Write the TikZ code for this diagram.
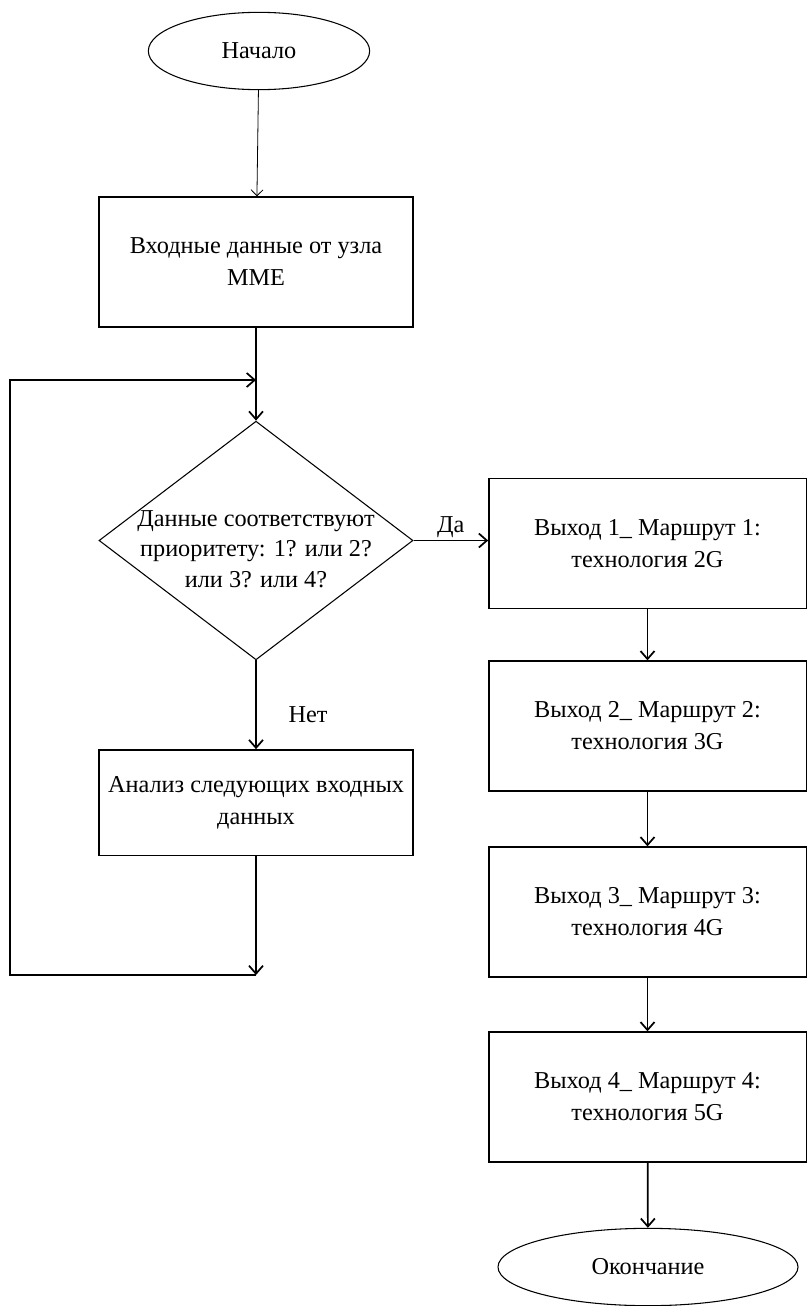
\documentclass[tikz,border=0pt]{standalone}
\usepackage{fontspec}
\setmainfont{Liberation Serif}
\usetikzlibrary{shapes.geometric,arrows.meta,calc}

\begin{document}
\begin{tikzpicture}[x=0.75pt,y=-0.75pt]
\tikzset{block/.style = {draw, rectangle, line width=1pt, minimum width=235.5pt, minimum height=97.5pt, align=center, font=\fontsize{18.2}{24}\selectfont},
  outbox/.style = {block, minimum width=238pt},
  terminal/.style = {draw, ellipse, line width=0.8pt, minimum width=166pt, minimum height=58pt, inner sep=0pt, font=\fontsize{18.2}{24}\selectfont},
  decision/.style = {draw, diamond, line width=0.8pt, minimum width=235.5pt, minimum height=179pt, inner sep=0pt},
  caption/.style = {align=center, font=\fontsize{18.2}{23}\selectfont},
  flow/.style = {line width=1.3pt, -{Straight Barb[length=6pt,width=10.5pt]}},
  thinflow/.style = {line width=0.6pt, -{Straight Barb[length=4.5pt,width=9pt]}}}
\def\leftx{10}
\def\loopy{380}
\def\backy{975}

\useasboundingbox (0,0) rectangle (807,1306);

% left column
\node[terminal] (start) at (259,51) {Начало};
\node[block] (input) at (256,262) {Входные данные от узла\\MME};
\node[decision] (check) at (256,540.5) {};
\node[caption] (checktext) at (256,549) {Данные соответствуют\\приоритету: 1? или 2?\\или 3? или 4?};
\node[block, minimum height=79pt] (next) at (256,802.5) {Анализ следующих входных\\данных};

% right column
\node[outbox] (out1) at (647.5,543.5) {Выход 1\_ Маршрут 1:\\технология 2G};
\node[outbox] (out2) at (647.5,726) {Выход 2\_ Маршрут 2:\\технология 3G};
\node[outbox] (out3) at (647.5,912) {Выход 3\_ Маршрут 3:\\технология 4G};
\node[outbox] (out4) at (647.5,1097) {Выход 4\_ Маршрут 4:\\технология 5G};
\node[terminal, minimum width=225pt] (stop) at (648,1267) {Окончание};

\coordinate (merge) at (256,\loopy);
\coordinate (back) at (256,\backy);
\coordinate (lefttop) at (\leftx,\loopy);

\draw[thinflow] (start) -- (input);
\draw[flow] (input) -- (check.north);
\draw[flow] (check.east) -- node[above=-2pt, font=\fontsize{18.2}{21}\selectfont] (yes) {Да} (out1.west |- check.east);
\draw[flow] (check.south) -- (next.north);
\node[font=\fontsize{18.2}{21}\selectfont] (no) at (308,715) {Нет};
\draw[flow] (next.south) -- (back);
\draw[flow] (back) -| (lefttop) -- (merge);

\draw[flow] (out1) -- (out2);
\draw[flow] (out2) -- (out3);
\draw[flow] (out3) -- (out4);
\draw[flow] (out4) -- (stop);
\end{tikzpicture}
\end{document}
